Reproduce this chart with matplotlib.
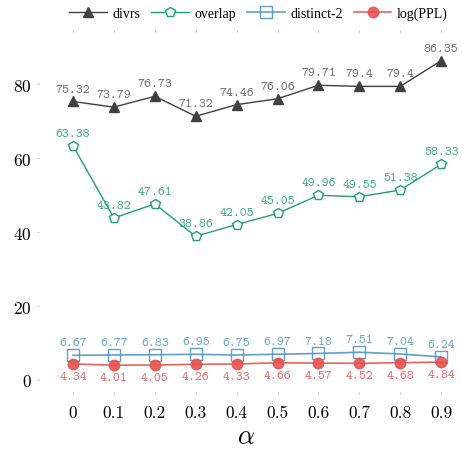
import matplotlib
matplotlib.use("Agg")
import matplotlib.pyplot as plt

alpha_labels = ["0", "0.1", "0.2", "0.3", "0.4", "0.5", "0.6", "0.7", "0.8", "0.9"]
alphas = [0.0, 0.1, 0.2, 0.3, 0.4, 0.5, 0.6, 0.7, 0.8, 0.9]
divrs = [75.32, 73.79, 76.73, 71.32, 74.46, 76.06, 79.71, 79.4, 79.4, 86.35]
overlap = [63.38, 43.82, 47.61, 38.86, 42.05, 45.05, 49.96, 49.55, 51.38, 58.33]
distinct2 = [6.67, 6.77, 6.83, 6.95, 6.75, 6.97, 7.18, 7.51, 7.04, 6.24]
log_ppl = [4.34, 4.01, 4.05, 4.26, 4.33, 4.66, 4.57, 4.52, 4.68, 4.84]

plt.rcParams['mathtext.fontset'] = 'cm'
plt.rcParams['axes.formatter.use_mathtext'] = True

fig = plt.figure(figsize=(4.62, 4.52), dpi=100)
ax = fig.add_axes([0.080, 0.126, 0.905, 0.805])

c_div = "#404040"
c_ov = "#1f9e78"
c_d2 = "#4f95c6"
c_ppl = "#e8524f"

ax.plot(alphas, divrs, color=c_div, lw=1.0, marker="^", ms=7, mfc=c_div, mec=c_div, label="divrs")
ax.plot(alphas, overlap, color=c_ov, lw=1.0, marker="p", ms=7, mfc="white", mec=c_ov, mew=1.0, label="overlap")
ax.plot(alphas, distinct2, color=c_d2, lw=1.2, alpha=0.9, marker="s", ms=8, mfc="none", mec=c_d2, mew=1.0, label="distinct-2")
ax.plot(alphas, log_ppl, color=c_ppl, lw=1.2, alpha=0.9, marker="o", ms=7.5, mfc=c_ppl, mec=c_ppl, label="log(PPL)")

# value labels, slightly lighter than the lines
lab_font = dict(family="cmtt10", fontsize=9.5, ha="center", alpha=0.85)
for x, v in zip(alphas, divrs):
    ax.annotate(f"{v:g}", (x, v), xytext=(0, 5), textcoords="offset points", color="#555555", va="bottom", **lab_font)
for x, v in zip(alphas, overlap):
    ax.annotate(f"{v:g}", (x, v), xytext=(0, 5), textcoords="offset points", color=c_ov, va="bottom", **lab_font)
for x, v in zip(alphas, distinct2):
    ax.annotate(f"{v:g}", (x, v), xytext=(0, 5), textcoords="offset points", color=c_d2, va="bottom", **lab_font)
for x, v in zip(alphas, log_ppl):
    ax.annotate(f"{v:g}", (x, v), xytext=(0, -5), textcoords="offset points", color=c_ppl, va="top", **lab_font)

ax.set_xlim(-0.088, 0.934)
ax.set_ylim(-3.8, 94.6)
ax.set_xticks(alphas)
ax.set_xticklabels(alpha_labels)
ax.set_yticks([0, 20, 40, 60, 80])
for s in ax.spines.values():
    s.set_visible(False)
ax.tick_params(axis="both", direction="in", length=1.5, width=0.6, color="#bbbbbb",
               labelsize=12.5, top=True)
ax.tick_params(axis="x", pad=8)
ax.tick_params(axis="y", pad=4)
for t in ax.get_xticklabels() + ax.get_yticklabels():
    t.set_family("cmr10")

ax.set_xlabel(r"$\alpha$", fontsize=19, labelpad=2)

leg = ax.legend(loc="lower center", bbox_to_anchor=(0.53, 1.0), ncol=4, frameon=False,
                prop={"family": "Liberation Serif", "size": 10}, handlelength=2.7,
                columnspacing=0.8, handletextpad=0.4, borderaxespad=0.3)

fig.savefig("out.png", dpi=100)
